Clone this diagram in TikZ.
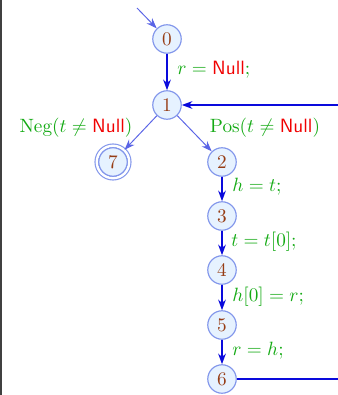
\documentclass[tikz,border=0pt]{standalone}
\usetikzlibrary{arrows.meta}
\definecolor{ngreen}{RGB}{20,170,20}
\definecolor{nred}{RGB}{240,0,0}
\definecolor{nbrown}{RGB}{150,60,20}
\definecolor{nfill}{RGB}{230,242,255}
\definecolor{nborder}{RGB}{130,150,235}
\definecolor{eblue}{RGB}{10,10,220}
\definecolor{lblue}{RGB}{90,100,230}
\newcommand{\Nl}{\textcolor{nred}{\textsf{Null}}}
\tikzset{
  st/.style={circle,draw=nborder,fill=nfill,line width=0.6pt,minimum size=14.8pt,inner sep=0pt,text=nbrown},
  fin/.style={st,double=white,double distance=1.3pt,minimum size=16.8pt},
  ed/.style={draw=eblue,line width=0.8pt,-{Stealth[length=5.5pt,width=4pt]}},
  edt/.style={draw=lblue,line width=0.5pt,-{Stealth[length=5.5pt,width=4pt]}},
  lab/.style={text=ngreen,anchor=west,inner sep=0pt}
}
\begin{document}
\begin{tikzpicture}[x=0.52pt,y=-0.52pt]
\useasboundingbox (0,0) rectangle (337,395);
\draw[black!75,line width=1pt] (1,0) -- (1,395);
\node[st] (n0) at (167,39) {0};
\node[st] (n1) at (167,105) {1};
\node[fin] (n7) at (113,162) {};
\node[st] (n7i) at (113,162) {7};
\node[st] (n2) at (222,162) {2};
\node[st] (n3) at (222,216) {3};
\node[st] (n4) at (222,270) {4};
\node[st] (n5) at (222,325) {5};
\node[st] (n6) at (222,379) {6};
\coordinate (s) at (137,8);
\coordinate (r1) at (338,105);
\coordinate (r6) at (338,379);
\draw[edt] (s) -- (n0);
\draw[ed] (n0) -- (n1);
\draw[edt] (n1) -- (n7);
\draw[edt] (n1) -- (n2);
\draw[ed] (n2) -- (n3);
\draw[ed] (n3) -- (n4);
\draw[ed] (n4) -- (n5);
\draw[ed] (n5) -- (n6);
\draw[ed] (r1) -- (n1);
\draw[eblue,line width=0.8pt] (n6) -- (r6);
\node[lab] (l01) at (177,70) {$r = \Nl;$};
\node[text=ngreen,inner sep=0pt] (l17) at (76,128) {Neg$(t \neq \Nl)$};
\node[text=ngreen,inner sep=0pt] (l12) at (265,128) {Pos$(t \neq \Nl)$};
\node[lab] (l23) at (232,187) {$h = t;$};
\node[lab] (l34) at (231,242) {$t = t[0];$};
\node[lab] (l45) at (232,297) {$h[0] = r;$};
\node[lab] (l56) at (232,351) {$r = h;$};
\end{tikzpicture}
\end{document}
